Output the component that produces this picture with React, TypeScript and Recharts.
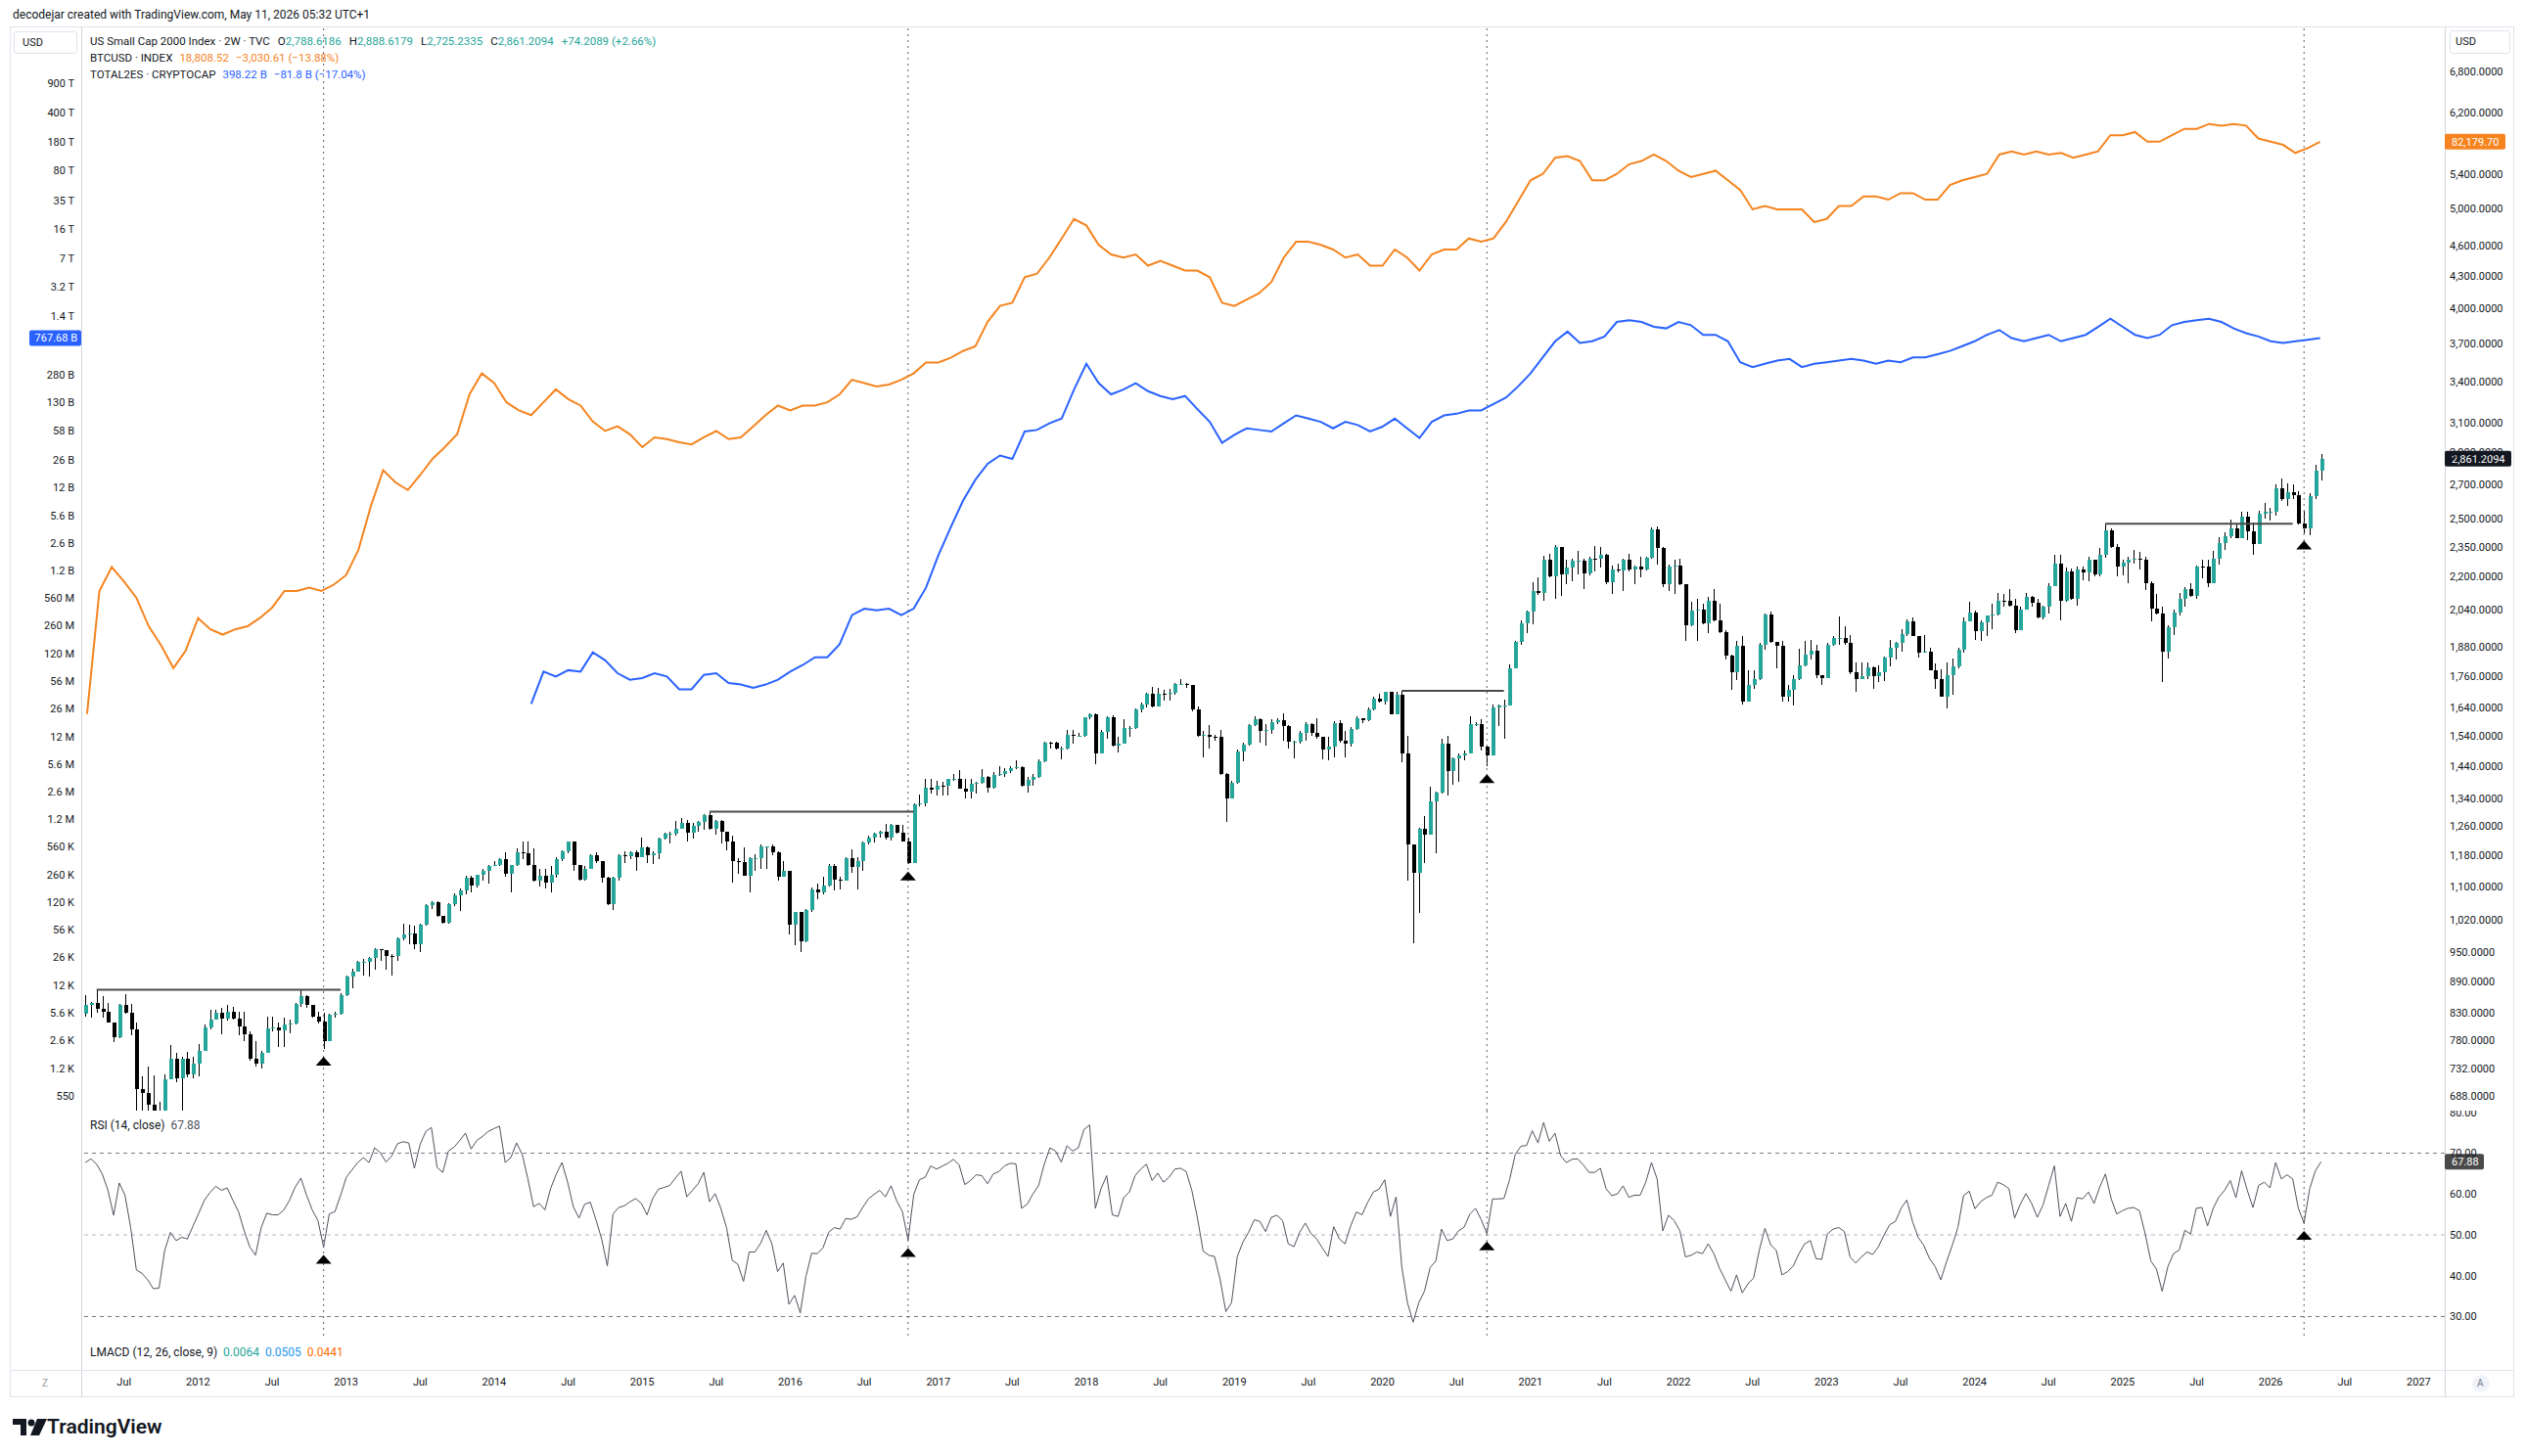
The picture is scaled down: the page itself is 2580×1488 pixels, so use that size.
import React from "react";
import {
  ComposedChart,
  Bar,
  Line,
  XAxis,
  YAxis,
  ReferenceLine,
  ReferenceDot,
} from "recharts";

/* US Small Cap 2000 (TVC), 2-week bars: [high, low, close].
   Open of every bar is the previous close (index bars do not gap). */
const firstOpen = 828;
const bars2011 = [
  [862, 822, 844], [849, 821, 847], [873, 830, 836], [861, 821, 832], [848, 811, 811],
  [812, 777, 785], [845, 783, 844], [864, 827, 830], [845, 789, 800], [811, 650, 699],
  [719, 650, 694], [736, 640, 676], [721, 640, 652], [680, 601, 661], [722, 655, 715],
  [772, 715, 749], [758, 710, 717], [752, 666, 749], [760, 718, 722], [752, 716, 741],
];
const bars2012 = [
  [774, 719, 761], [808, 768, 802], [835, 799, 817], [835, 817, 829], [838, 791, 819],
  [844, 815, 832], [841, 817, 819], [832, 788, 805], [832, 779, 791], [795, 745, 749],
  [779, 735, 740], [762, 733, 759], [823, 762, 801], [823, 796, 803], [811, 768, 798],
  [820, 768, 808], [817, 793, 809], [847, 808, 845], [872, 841, 860], [862, 838, 844],
  [844, 821, 823], [832, 809, 814], [829, 765, 779], [827, 779, 826], [832, 820, 828],
  [866, 826, 863],
];
const bars2013 = [
  [902, 860, 899], [915, 876, 909], [932, 909, 930], [936, 902, 930], [939, 899, 937],
  [958, 914, 956], [956, 932, 955], [955, 914, 942], [946, 902, 941], [981, 932, 979],
  [1012, 976, 988], [1009, 967, 991], [1007, 956, 967], [1012, 949, 1010], [1057, 1008, 1055],
  [1065, 1045, 1062], [1065, 1027, 1029], [1030, 1012, 1014], [1060, 1012, 1057], [1082, 1053, 1078],
  [1094, 1042, 1090], [1126, 1080, 1122], [1126, 1086, 1102], [1130, 1098, 1128], [1143, 1114, 1138],
  [1155, 1106, 1151], [1164, 1151, 1155],
];
const bars2014 = [
  [1172, 1151, 1168], [1187, 1124, 1132], [1155, 1086, 1153], [1198, 1151, 1187], [1215, 1170, 1185],
  [1215, 1151, 1155], [1198, 1112, 1114], [1143, 1099, 1126], [1143, 1096, 1110], [1151, 1086, 1128],
  [1174, 1122, 1170], [1193, 1164, 1191], [1217, 1185, 1215], [1211, 1138, 1153], [1155, 1114, 1116],
  [1151, 1114, 1145], [1182, 1148, 1179], [1187, 1159, 1164], [1165, 1110, 1122], [1124, 1055, 1057],
  [1124, 1043, 1122], [1182, 1114, 1179], [1191, 1159, 1176], [1191, 1170, 1187], [1193, 1138, 1174],
  [1226, 1193, 1200],
];
const bars2015 = [
  [1202, 1159, 1179], [1190, 1157, 1185], [1226, 1168, 1224], [1240, 1222, 1238], [1244, 1211, 1238],
  [1272, 1232, 1252], [1281, 1253, 1268], [1276, 1217, 1239], [1267, 1224, 1260], [1272, 1244, 1270],
  [1292, 1249, 1290], [1300, 1249, 1251], [1276, 1235, 1272], [1276, 1210, 1244], [1239, 1193, 1217],
  [1231, 1109, 1165], [1172, 1132, 1161], [1200, 1126, 1127], [1175, 1085, 1172], [1182, 1140, 1172],
  [1207, 1144, 1203], [1204, 1144, 1204], [1208, 1179, 1187], [1191, 1114, 1123], [1165, 1124, 1140],
  [1140, 989, 1010],
];
const bars2016 = [
  [1040, 964, 1038], [1040, 949, 972], [1045, 970, 1044], [1098, 1038, 1093], [1107, 1070, 1085],
  [1123, 1081, 1102], [1156, 1100, 1152], [1156, 1091, 1117], [1125, 1093, 1114], [1175, 1114, 1172],
  [1196, 1134, 1148], [1175, 1093, 1164], [1216, 1138, 1213], [1231, 1209, 1226], [1239, 1213, 1237],
  [1246, 1226, 1244], [1264, 1222, 1226], [1265, 1218, 1263], [1263, 1237, 1239], [1263, 1215, 1217],
  [1226, 1157, 1160], [1323, 1162, 1320], [1350, 1316, 1325], [1400, 1316, 1370], [1400, 1355, 1366],
  [1394, 1348, 1378],
];
const bars2017 = [
  [1391, 1348, 1376], [1400, 1348, 1398], [1415, 1394, 1400], [1425, 1367, 1369], [1400, 1340, 1360],
  [1400, 1340, 1383], [1389, 1355, 1386], [1431, 1383, 1404], [1409, 1358, 1371], [1420, 1369, 1410],
  [1440, 1408, 1413], [1434, 1404, 1424], [1440, 1416, 1434], [1458, 1429, 1437], [1440, 1373, 1378],
  [1404, 1356, 1396], [1413, 1378, 1406], [1461, 1401, 1455], [1520, 1451, 1517], [1520, 1498, 1515],
  [1520, 1493, 1498], [1504, 1460, 1498], [1560, 1493, 1543], [1560, 1514, 1539], [1551, 1535, 1541],
  [1606, 1537, 1604],
];
const bars2018 = [
  [1621, 1600, 1616], [1619, 1446, 1482], [1561, 1482, 1553], [1609, 1530, 1604], [1612, 1504, 1508],
  [1537, 1485, 1512], [1600, 1513, 1566], [1575, 1537, 1567], [1636, 1565, 1633], [1659, 1624, 1653],
  [1697, 1641, 1693], [1716, 1640, 1645], [1714, 1643, 1693], [1708, 1665, 1692], [1709, 1667, 1697],
  [1733, 1688, 1728], [1748, 1724, 1731], [1733, 1714, 1725], [1722, 1628, 1633], [1643, 1537, 1541],
  [1557, 1469, 1545], [1577, 1496, 1537], [1543, 1523, 1535], [1560, 1410, 1415], [1418, 1270, 1340],
  [1392, 1338, 1386],
];
const bars2019 = [
  [1493, 1383, 1488], [1516, 1455, 1510], [1580, 1506, 1577], [1608, 1574, 1600], [1602, 1516, 1558],
  [1580, 1506, 1560], [1597, 1546, 1589], [1603, 1580, 1596], [1621, 1524, 1575], [1578, 1496, 1519],
  [1524, 1464, 1521], [1557, 1513, 1551], [1589, 1524, 1580], [1586, 1540, 1551], [1603, 1529, 1535],
  [1537, 1461, 1493], [1535, 1457, 1502], [1592, 1469, 1586], [1594, 1518, 1524], [1557, 1469, 1513],
  [1569, 1502, 1563], [1609, 1560, 1603], [1603, 1586, 1595], [1639, 1592, 1634], [1681, 1631, 1675],
  [1693, 1657, 1661],
];
const bars2020 = [
  [1700, 1651, 1699], [1699, 1615, 1617], [1699, 1615, 1689], [1703, 1453, 1480], [1540, 1113, 1209],
  [1209, 969, 1133], [1255, 1036, 1250], [1288, 1158, 1236], [1375, 1241, 1331], [1360, 1184, 1358],
  [1529, 1355, 1513], [1540, 1347, 1422], [1469, 1380, 1464], [1482, 1391, 1475], [1490, 1459, 1482],
  [1609, 1484, 1580], [1589, 1575, 1582], [1597, 1490, 1502], [1507, 1438, 1475], [1651, 1477, 1641],
  [1651, 1575, 1647], [1669, 1529, 1649], [1808, 1649, 1790], [1902, 1790, 1898], [1994, 1888, 1980],
  [2036, 1937, 2031],
];
const bars2021 = [
  [2169, 1977, 2127], [2193, 2110, 2120], [2305, 2084, 2283], [2315, 2195, 2199], [2360, 2090, 2348],
  [2351, 2106, 2209], [2282, 2161, 2244], [2290, 2177, 2277], [2327, 2209, 2277], [2290, 2137, 2214],
  [2299, 2204, 2290], [2355, 2225, 2286], [2350, 2241, 2310], [2315, 2161, 2169], [2254, 2114, 2233],
  [2261, 2217, 2230], [2290, 2130, 2282], [2315, 2225, 2233], [2254, 2161, 2249], [2299, 2193, 2233],
  [2299, 2228, 2295], [2455, 2290, 2445], [2460, 2257, 2345], [2350, 2145, 2161], [2257, 2130, 2249],
  [2282, 2114, 2252],
];
const bars2022 = [
  [2290, 2158, 2161], [2148, 1902, 1973], [2076, 1966, 2036], [2092, 1902, 2044], [2069, 1977, 1980],
  [2102, 1937, 2081], [2137, 1991, 1994], [2069, 1937, 1940], [1951, 1827, 1841], [1848, 1706, 1775],
  [1902, 1743, 1884], [1923, 1651, 1663], [1782, 1669, 1724], [1782, 1712, 1749], [1895, 1743, 1888],
  [2024, 1865, 2021], [2031, 1895, 1898], [1895, 1792, 1884], [1902, 1663, 1681], [1724, 1663, 1706],
  [1762, 1648, 1749], [1871, 1746, 1801], [1902, 1799, 1848], [1906, 1827, 1861], [1888, 1752, 1762],
  [1765, 1727, 1752],
];
const bars2023 = [
  [1895, 1768, 1888], [1923, 1884, 1916], [2010, 1888, 1916], [1966, 1888, 1895], [1930, 1768, 1775],
  [1814, 1699, 1749], [1813, 1748, 1761], [1813, 1748, 1794], [1800, 1710, 1761], [1802, 1735, 1776],
  [1840, 1742, 1833], [1908, 1800, 1874], [1901, 1827, 1894], [1954, 1860, 1934], [1997, 1925, 1987],
  [2008, 1923, 1923], [1923, 1833, 1854], [1930, 1854, 1857], [1874, 1781, 1781], [1810, 1712, 1748],
  [1787, 1679, 1679], [1813, 1637, 1764], [1832, 1687, 1800], [1874, 1790, 1867], [2008, 1854, 1987],
  [2076, 1987, 2030],
];
const bars2024 = [
  [2038, 1906, 1948], [1994, 1904, 1983], [2016, 1925, 2014], [2068, 1954, 2020], [2120, 2013, 2084],
  [2114, 2056, 2081], [2137, 2054, 2061], [2091, 1937, 1951], [2056, 1951, 2041], [2117, 2050, 2099],
  [2107, 2056, 2072], [2091, 2004, 2005], [2061, 1997, 2053], [2168, 2023, 2153], [2308, 2158, 2265],
  [2308, 1994, 2084], [2241, 2076, 2225], [2238, 2087, 2091], [2249, 2061, 2233], [2249, 2179, 2217],
  [2299, 2176, 2282], [2282, 2201, 2208], [2341, 2201, 2308], [2473, 2291, 2440], [2450, 2341, 2346],
  [2366, 2201, 2246], [2282, 2206, 2270],
];
const bars2025 = [
  [2299, 2165, 2282], [2333, 2265, 2290], [2324, 2233, 2285], [2299, 2133, 2165], [2176, 1990, 2046],
  [2114, 2020, 2023], [2053, 1735, 1860], [1973, 1830, 1964], [2043, 1930, 2027], [2118, 2016, 2091],
  [2145, 2056, 2137], [2168, 2102, 2107], [2254, 2091, 2249], [2282, 2192, 2246], [2285, 2148, 2168],
  [2330, 2176, 2290], [2400, 2257, 2370], [2428, 2333, 2405], [2496, 2396, 2450], [2473, 2393, 2396],
  [2542, 2423, 2513], [2542, 2384, 2434], [2482, 2308, 2366], [2546, 2366, 2527], [2593, 2500, 2540],
  [2565, 2491, 2540],
];
const bars2026 = [
  [2699, 2518, 2680], [2738, 2602, 2612], [2709, 2574, 2654], [2699, 2612, 2635], [2660, 2467, 2473],
  [2548, 2424, 2446], [2650, 2410, 2631], [2820, 2616, 2787], [2888.6179, 2725.2335, 2861.2094],
];

// RSI (14, close) per bar
const rsi2011 = [67.7, 68.6, 67.3, 64.9, 60.9, 54.8, 62.7, 59.7, 51.8, 41.4, 40.6, 39.0, 36.8, 37.0, 46.2, 50.6, 48.6, 49.4, 49.0, 52.2];
const rsi2012 = [55.3, 58.5, 60.4, 61.9, 60.9, 61.5, 58.5, 55.7, 51.0, 47.0, 45.0, 51.8, 55.3, 54.9, 54.9, 56.1, 58.5, 61.7, 63.9, 59.7, 56.1, 53.5, 47.0, 55.1, 55.7, 59.7];
const rsi2013 = [64.1, 65.9, 67.7, 68.9, 67.7, 71.3, 70.1, 67.8, 69.3, 72.3, 72.8, 72.5, 66.3, 72.1, 75.3, 76.3, 66.5, 65.3, 70.5, 71.5, 73.1, 74.9, 71.0, 73.1, 74.1, 75.3, 76.0];
const rsi2014 = [76.6, 67.7, 68.9, 72.5, 69.7, 63.7, 56.9, 57.7, 56.1, 61.3, 64.9, 67.7, 62.9, 56.9, 54.1, 57.5, 58.0, 53.7, 49.0, 42.4, 55.1, 56.7, 57.1, 58.1, 58.9, 57.7];
const rsi2015 = [54.9, 58.9, 61.2, 61.6, 62.1, 63.9, 65.6, 59.3, 60.9, 62.5, 65.3, 58.1, 60.1, 56.5, 51.8, 43.8, 42.8, 38.6, 45.8, 45.8, 47.9, 51.1, 47.8, 41.0, 43.1, 33.0];
const rsi2016 = [35.2, 30.9, 39.8, 45.5, 45.4, 46.8, 50.6, 51.8, 51.4, 54.0, 53.8, 54.4, 56.7, 58.8, 59.9, 60.9, 59.3, 62.0, 58.3, 55.7, 48.7, 59.9, 63.5, 64.1, 66.9, 66.1];
const rsi2017 = [66.8, 67.5, 68.5, 67.1, 62.3, 63.3, 64.7, 64.5, 62.5, 64.9, 65.5, 66.9, 67.5, 67.4, 56.5, 57.5, 60.0, 62.1, 67.3, 71.3, 70.5, 67.8, 71.8, 70.5, 71.3, 75.8];
const rsi2018 = [76.9, 56.5, 61.3, 64.5, 54.9, 54.5, 59.1, 60.5, 64.5, 66.1, 67.3, 63.3, 65.1, 62.9, 64.1, 66.1, 66.3, 65.5, 60.9, 54.1, 46.0, 45.0, 44.7, 39.0, 31.2, 33.4];
const rsi2019 = [44.6, 48.2, 50.6, 53.7, 53.3, 50.8, 54.3, 54.8, 53.5, 47.8, 47.1, 50.6, 52.9, 50.3, 49.0, 46.8, 44.7, 52.0, 49.0, 47.8, 52.2, 55.6, 54.9, 58.0, 60.5, 61.2];
const rsi2020 = [63.5, 54.5, 59.3, 42.2, 33.4, 28.6, 33.4, 36.2, 42.0, 43.6, 51.4, 48.6, 49.0, 51.0, 51.9, 55.1, 56.5, 53.7, 50.3, 58.8, 58.8, 58.9, 63.5, 69.7, 71.7, 71.9];
const rsi2021 = [75.5, 72.5, 77.5, 72.9, 74.9, 69.4, 67.7, 68.5, 68.6, 67.1, 65.3, 65.3, 66.3, 61.3, 59.6, 60.0, 62.0, 59.2, 59.7, 59.7, 62.9, 67.7, 63.7, 51.0, 54.8, 53.5];
const rsi2022 = [51.0, 44.6, 45.0, 45.8, 45.4, 47.8, 45.4, 41.8, 39.0, 36.2, 40.2, 35.8, 38.0, 39.4, 46.2, 51.6, 47.6, 46.2, 40.2, 41.0, 42.4, 45.4, 47.8, 48.6, 44.2, 44.0];
const rsi2023 = [50.2, 51.4, 51.8, 50.8, 44.6, 43.1, 44.6, 45.8, 45.2, 47.1, 50.0, 52.5, 53.3, 56.5, 58.5, 53.3, 49.4, 47.4, 44.2, 42.2, 39.0, 43.4, 47.4, 51.8, 59.6, 60.7];
const rsi2024 = [56.4, 58.1, 59.1, 59.7, 62.9, 62.3, 61.3, 54.1, 57.5, 60.1, 57.7, 54.3, 57.3, 62.1, 66.9, 54.5, 57.7, 53.3, 59.1, 58.8, 60.5, 57.7, 61.7, 64.9, 58.9, 55.1, 55.9];
const rsi2025 = [56.5, 56.7, 55.9, 50.3, 43.6, 41.6, 36.2, 42.2, 45.4, 46.3, 51.1, 50.2, 56.5, 56.7, 52.2, 56.5, 59.3, 60.9, 63.3, 59.1, 65.7, 60.9, 56.7, 62.1, 62.9, 61.5];
const rsi2026 = [67.7, 63.7, 64.7, 63.7, 56.5, 52.9, 61.3, 65.7, 67.88];

// BTCUSD INDEX, month starts Apr 2011 .. May 2026
const btc2011 = [1.73, 17.5, 27.4, 20.9, 15.4, 9.0, 6.3, 4.1, 5.7];
const btc2012 = [10.5, 8.5, 7.7, 8.5, 9.0, 10.5, 12.8, 17.5, 17.5, 18.6, 17.5, 19.7];
const btc2013 = [23.6, 38, 86, 170, 135, 117, 155, 210, 262, 334, 708, 1050];
const btc2014 = [875, 609, 523, 479, 609, 777, 647, 573, 424, 355, 388, 334];
const btc2015 = [262, 315, 305, 287, 276, 315, 355, 305, 315, 388, 479, 573];
const btc2016 = [523, 573, 573, 609, 708, 931, 875, 822, 851, 931, 1050, 1290];
const btc2017 = [1290, 1410, 1600, 1750, 2770, 3740, 3970, 6420, 6850, 9280, 13300, 19200];
const btc2018 = [17000, 11800, 9850, 9280, 9850, 7970, 8730, 7970, 7270, 7270, 6420, 3970];
const btc2019 = [3740, 4210, 4750, 5860, 9280, 12500, 12500, 11800, 10800, 9280, 9850, 7970];
const btc2020 = [7970, 10800, 9280, 7270, 9850, 10800, 10800, 13300, 12500, 13300, 18100, 26800];
const btc2021 = [39700, 44800, 60700, 62600, 57100, 39700, 39700, 44800, 53800, 57100, 64500, 57100];
const btc2022 = [47600, 42200, 44800, 47600, 39700, 33100, 23000, 24500, 23000, 23000, 23000, 18100];
const btc2023 = [19200, 24500, 24500, 29300, 29300, 27600, 31200, 31200, 27600, 27600, 36300, 39700];
const btc2024 = [42200, 44800, 64500, 68500, 64500, 68500, 64500, 66500, 60700, 64500, 68500, 92800];
const btc2025 = [92800, 98500, 82200, 82200, 92800, 104700, 104700, 114700, 111200, 114700, 111200, 87300];
const btc2026 = [82200, 77400, 66500, 72800, 82179.7];

// TOTAL2ES (CRYPTOCAP), billions USD, month starts Apr 2014 .. May 2026
const tot2014 = [0.0298, 0.073, 0.0638, 0.076, 0.073, 0.125, 0.0999, 0.0698, 0.0583];
const tot2015 = [0.061, 0.0698, 0.0638, 0.0446, 0.0446, 0.0667, 0.0698, 0.0533, 0.051, 0.0466, 0.051, 0.0583];
const tot2016 = [0.073, 0.0874, 0.109, 0.109, 0.156, 0.35, 0.419, 0.4, 0.419, 0.35, 0.419, 0.75];
const tot2017 = [1.84, 4.0, 8.4, 15, 23.5, 29.5, 26.8, 57.4, 60, 72, 82.2, 184];
const tot2018 = [376, 220, 161, 184, 220, 176, 154, 141, 154, 107, 75.1, 42];
const tot2019 = [52.5, 62.7, 60, 57.4, 72, 89.9, 82.2, 75.1, 62.7, 75.1, 68.7, 57.4];
const tot2020 = [65.7, 82.2, 62.7, 48, 75.1, 89.9, 94, 103, 103, 123, 147, 201];
const tot2021 = [288, 450, 703, 920, 672, 703, 804, 1203, 1260, 1203, 1050, 1006];
const tot2022 = [1203, 1100, 841, 841, 703, 393, 344, 376, 412, 431, 344, 376];
const tot2023 = [393, 412, 431, 412, 376, 412, 393, 450, 450, 492, 538, 615];
const tot2024 = [703, 841, 962, 769, 703, 769, 841, 703, 769, 841, 1050, 1316];
const tot2025 = [1050, 841, 769, 841, 1100, 1203, 1260, 1316, 1203, 1006, 880, 804];
const tot2026 = [703, 672, 703, 735, 767.68];

// drawn annotations: bars with the dotted cursor + arrow, and the resistance lines
const markerBars = [42, 145, 247, 391];
const levels = [
  { from: 2, to: 45, price: 873 },
  { from: 110, to: 146, price: 1300 },
  { from: 232, to: 250, price: 1703 },
  { from: 356, to: 389, price: 2473 },
];

const rightTicks = [688, 732, 780, 830, 890, 950, 1020, 1100, 1180, 1260, 1340, 1440, 1540, 1640, 1760, 1880, 2040, 2200, 2350, 2500, 2700, 2900, 3100, 3400, 3700, 4000, 4300, 4600, 5000, 5400, 6200, 6800];
const leftTicks = [550, 1.2e3, 2.6e3, 5.6e3, 1.2e4, 2.6e4, 5.6e4, 1.2e5, 2.6e5, 5.6e5, 1.2e6, 2.6e6, 5.6e6, 1.2e7, 2.6e7, 5.6e7, 1.2e8, 2.6e8, 5.6e8, 1.2e9, 2.6e9, 5.6e9, 1.2e10, 2.6e10, 5.8e10, 1.3e11, 2.8e11, 1.4e12, 3.2e12, 7e12, 1.6e13, 3.5e13, 8e13, 1.8e14, 4e14, 9e14];
const leftTickLabels = ["550", "1.2 K", "2.6 K", "5.6 K", "12 K", "26 K", "56 K", "120 K", "260 K", "560 K", "1.2 M", "2.6 M", "5.6 M", "12 M", "26 M", "56 M", "120 M", "260 M", "560 M", "1.2 B", "2.6 B", "5.6 B", "12 B", "26 B", "58 B", "130 B", "280 B", "1.4 T", "3.2 T", "7 T", "16 T", "35 T", "80 T", "180 T", "400 T", "900 T"];
const rsiTicks = [30, 40, 50, 60, 70, 80];
const yearTicks = [2012, 2013, 2014, 2015, 2016, 2017, 2018, 2019, 2020, 2021, 2022, 2023, 2024, 2025, 2026, 2027];

// ---- time axis
const BAR0 = 2011.238; // first visible bar, 28 Mar 2011 (decimal years)
const BAR_STEP = 14 / 365.25;
const barTime = (i: number) => BAR0 + i * BAR_STEP;
const X_MIN = 2011.2107;
const X_MAX = 2027.1755;

// each pane's own log scale, picked so the labels land where TradingView put them
const R_DOMAIN = [666.5, 7516];
const L_DOMAIN = [371, 4.41e15];
const BTC_DOMAIN = [9.92e-4, 7.19e5];
const RSI_DOMAIN = [23.65, 80.42];

const INK = "#131722";
const TEAL = "#26a69a";
const ORANGE = "#f5841f";
const BLUE = "#2962ff";
const FONT = "Roboto, 'Noto Sans', sans-serif";
const TICK = { fill: INK, fontSize: 11, fontFamily: FONT };
const LEFT_AXIS_W = 73;

const russellBars = [
  ...bars2011, ...bars2012, ...bars2013, ...bars2014, ...bars2015, ...bars2016,
  ...bars2017, ...bars2018, ...bars2019, ...bars2020, ...bars2021, ...bars2022,
  ...bars2023, ...bars2024, ...bars2025, ...bars2026,
];
const rsiValues = [
  ...rsi2011, ...rsi2012, ...rsi2013, ...rsi2014, ...rsi2015, ...rsi2016,
  ...rsi2017, ...rsi2018, ...rsi2019, ...rsi2020, ...rsi2021, ...rsi2022,
  ...rsi2023, ...rsi2024, ...rsi2025, ...rsi2026,
];
const btcValues = [
  ...btc2011, ...btc2012, ...btc2013, ...btc2014, ...btc2015, ...btc2016,
  ...btc2017, ...btc2018, ...btc2019, ...btc2020, ...btc2021, ...btc2022,
  ...btc2023, ...btc2024, ...btc2025, ...btc2026,
];
const totValues = [
  ...tot2014, ...tot2015, ...tot2016, ...tot2017, ...tot2018, ...tot2019,
  ...tot2020, ...tot2021, ...tot2022, ...tot2023, ...tot2024, ...tot2025, ...tot2026,
];

const candles = russellBars.map(([high, low, close], i) => ({
  t: barTime(i),
  open: i === 0 ? firstOpen : russellBars[i - 1][2],
  high,
  low,
  close,
  range: [low, high],
}));
const rsiPoints = rsiValues.map((v, i) => ({ t: barTime(i), v }));
const btcPoints = btcValues.map((v, k) => ({ t: 2011.25 + k / 12, v }));
const totPoints = totValues.map((v, k) => ({ t: 2014.25 + k / 12, v: v * 1e9 }));
const xTicks = yearTicks.flatMap((y) => [y - 0.5, y]);

const lastBar = candles[candles.length - 1];
const lastBtc = btcValues[btcValues.length - 1];
const lastTot = totValues[totValues.length - 1] * 1e9;
const lastRsi = rsiValues[rsiValues.length - 1];

const fmt4 = (v: number) =>
  v.toLocaleString("en-US", { minimumFractionDigits: 4, maximumFractionDigits: 4 });

/** One candle: the Bar hands us the pixel span of [low, high];
 *  open/close are placed inside it on the same log scale. */
function Candle(props: any) {
  const { x, y, width, height } = props;
  const p = props.payload ?? props;
  if (x == null || y == null || !p) return null;
  const top = Math.min(y, y + height);
  const h = Math.abs(height);
  const lh = Math.log(p.high);
  const ll = Math.log(p.low);
  const py = (v: number) => (lh === ll ? top : top + (h * (lh - Math.log(v))) / (lh - ll));
  const cx = Math.round(x + width / 2);
  const up = p.close >= p.open;
  const b0 = py(Math.max(p.open, p.close));
  const b1 = py(Math.min(p.open, p.close));
  return (
    <g shapeRendering="crispEdges">
      <line x1={cx + 0.5} x2={cx + 0.5} y1={top} y2={top + h} stroke="#000" strokeWidth={1} />
      <rect x={cx - 1.5} y={b0} width={4} height={Math.max(1, b1 - b0)} fill={up ? TEAL : "#000"} />
    </g>
  );
}

/** Left scale label, right-aligned against the scale's inner edge. */
function LeftTick(props: any) {
  const { y, payload } = props;
  if (y == null || !payload) return null;
  const label = leftTickLabels[leftTicks.indexOf(payload.value)] ?? "";
  return (
    <text x={LEFT_AXIS_W - 7} y={y} dy="0.35em" textAnchor="end" {...TICK}>
      {label}
    </text>
  );
}

/** Up arrow drawn just under the point it marks. */
function Arrow(props: any) {
  const { cx, cy } = props;
  if (cx == null || cy == null) return null;
  const top = cy + 8;
  return <path d={`M${cx},${top} L${cx + 8},${top + 9} L${cx - 8},${top + 9} Z`} fill="#000" />;
}

/** Last-value tag sitting on a price scale. */
function AxisTag(props: any) {
  const { viewBox, text, bg, side, w } = props;
  if (!viewBox) return null;
  const y = viewBox.y;
  const x = side === "right" ? viewBox.x + viewBox.width : viewBox.x - w;
  return (
    <g>
      <rect x={x} y={y - 8} width={w} height={16} rx={2} fill={bg} />
      <text
        x={side === "right" ? x + 7 : x + w - 4}
        y={y}
        dy="0.35em"
        textAnchor={side === "right" ? "start" : "end"}
        fill="#fff"
        fontSize={11}
        fontFamily={FONT}
      >
        {text}
      </text>
    </g>
  );
}

function Txt({ x, y, size = 12, color = INK, weight = 400, children }: any) {
  return (
    <div
      style={{
        position: "absolute",
        left: x,
        top: y - 8,
        height: 16,
        lineHeight: "16px",
        fontSize: size,
        color,
        fontWeight: weight,
        whiteSpace: "nowrap",
        fontFamily: FONT,
      }}
    >
      {children}
    </div>
  );
}

/** Legend row: pieces laid out left to right with TradingView's spacing. */
function LegendRow({ y, gap = 8, children }: any) {
  return (
    <div
      style={{
        position: "absolute",
        left: 92,
        top: y - 8,
        height: 16,
        lineHeight: "16px",
        display: "flex",
        gap,
        fontSize: 11.5,
        color: INK,
        whiteSpace: "nowrap",
        fontFamily: FONT,
      }}
    >
      {children}
    </div>
  );
}

function Rule({ x, y, w, h, c = "#e0e3eb" }: any) {
  return <div style={{ position: "absolute", left: x, top: y, width: w, height: h, background: c }} />;
}

export default function App() {
  return (
    <div
      style={{
        position: "absolute",
        left: 0,
        top: 0,
        width: 2580,
        height: 1488,
        background: "#fff",
        overflow: "hidden",
        fontFamily: FONT,
      }}
    >
      <Txt x={13} y={15}>decodejar created with TradingView.com, May 11, 2026 05:32 UTC+1</Txt>

      {/* frame */}
      <div style={{ position: "absolute", left: 10, top: 27, width: 2559, height: 1401, border: "1px solid #e0e3eb", boxSizing: "border-box" }} />
      <Rule x={83} y={27} w={1} h={1401} c="#d1d4dc" />
      <Rule x={2498} y={27} w={1} h={1401} c="#d1d4dc" />
      <Rule x={10} y={1400} w={2559} h={1} />

      {/* main pane */}
      <div style={{ position: "absolute", left: 10, top: 27 }}>
        <ComposedChart width={2559} height={1108} data={candles} margin={{ top: 0, right: 0, bottom: 0, left: 0 }}>
          <XAxis xAxisId="x" dataKey="t" type="number" domain={[X_MIN, X_MAX]} allowDataOverflow hide />
          <YAxis
            yAxisId="l"
            orientation="left"
            width={LEFT_AXIS_W}
            scale="log"
            domain={L_DOMAIN}
            allowDataOverflow
            ticks={leftTicks}
            interval={0}
            axisLine={false}
            tickLine={false}
            tick={(p: any) => <LeftTick {...p} />}
          />
          <YAxis
            yAxisId="r"
            orientation="right"
            width={71}
            scale="log"
            domain={R_DOMAIN}
            allowDataOverflow
            ticks={rightTicks}
            interval={0}
            tickFormatter={fmt4}
            axisLine={false}
            tickLine={false}
            tickSize={0}
            tickMargin={5}
            tick={TICK}
          />
          <YAxis yAxisId="btc" hide scale="log" domain={BTC_DOMAIN} allowDataOverflow />

          {markerBars.map((i) => (
            <ReferenceLine key={`v${i}`} xAxisId="x" yAxisId="r" x={barTime(i)} stroke="#5d606b" strokeDasharray="2 4" />
          ))}
          {levels.map((l) => (
            <ReferenceLine
              key={`h${l.from}`}
              xAxisId="x"
              yAxisId="r"
              segment={[{ x: barTime(l.from), y: l.price }, { x: barTime(l.to), y: l.price }]}
              stroke="#4a4a4a"
              strokeWidth={2}
            />
          ))}

          <Line xAxisId="x" yAxisId="btc" data={btcPoints} dataKey="v" stroke={ORANGE} strokeWidth={2} dot={false} activeDot={false} isAnimationActive={false} />
          <Line xAxisId="x" yAxisId="l" data={totPoints} dataKey="v" stroke={BLUE} strokeWidth={2} dot={false} activeDot={false} isAnimationActive={false} />
          <Bar xAxisId="x" yAxisId="r" dataKey="range" barSize={4} shape={(p: any) => <Candle {...p} />} isAnimationActive={false} />

          {markerBars.map((i) => (
            <ReferenceDot key={`a${i}`} xAxisId="x" yAxisId="r" x={barTime(i)} y={candles[i].low} shape={(p: any) => <Arrow {...p} />} />
          ))}

          <ReferenceLine xAxisId="x" yAxisId="r" y={lastBar.close} stroke="none" ifOverflow="visible"
            label={<AxisTag side="right" w={68} bg={INK} text={fmt4(lastBar.close)} />} />
          <ReferenceLine xAxisId="x" yAxisId="btc" y={lastBtc} stroke="none" ifOverflow="visible"
            label={<AxisTag side="right" w={62} bg={ORANGE} text={lastBtc.toLocaleString("en-US", { minimumFractionDigits: 2 })} />} />
          <ReferenceLine xAxisId="x" yAxisId="l" y={lastTot} stroke="none" ifOverflow="visible"
            label={<AxisTag side="left" w={53} bg={BLUE} text={`${(lastTot / 1e9).toFixed(2)} B`} />} />
        </ComposedChart>
      </div>

      {/* RSI pane + time axis */}
      <div style={{ position: "absolute", left: 10, top: 1135 }}>
        <ComposedChart width={2559} height={293} data={rsiPoints} margin={{ top: 0, right: 0, bottom: 0, left: 0 }}>
          <XAxis
            xAxisId="x"
            dataKey="t"
            type="number"
            domain={[X_MIN, X_MAX]}
            allowDataOverflow
            ticks={xTicks}
            interval={0}
            height={56}
            tickSize={0}
            tickMargin={36}
            axisLine={false}
            tickLine={false}
            tick={TICK}
            tickFormatter={(v: number) => (Number.isInteger(v) ? String(v) : "Jul")}
          />
          <YAxis yAxisId="pad" orientation="left" width={LEFT_AXIS_W} tick={false} axisLine={false} tickLine={false} />
          <YAxis
            yAxisId="rsi"
            orientation="right"
            width={71}
            domain={RSI_DOMAIN}
            allowDataOverflow
            ticks={rsiTicks}
            interval={0}
            tickFormatter={(v: number) => v.toFixed(2)}
            axisLine={false}
            tickLine={false}
            tickSize={0}
            tickMargin={5}
            tick={TICK}
          />
          <ReferenceLine xAxisId="x" yAxisId="rsi" y={70} stroke="#787b86" strokeDasharray="4 4" />
          <ReferenceLine xAxisId="x" yAxisId="rsi" y={50} stroke="#b2b5be" strokeDasharray="4 4" />
          <ReferenceLine xAxisId="x" yAxisId="rsi" y={30} stroke="#787b86" strokeDasharray="4 4" />
          {markerBars.map((i) => (
            <ReferenceLine
              key={`rv${i}`}
              xAxisId="x"
              yAxisId="rsi"
              segment={[{ x: barTime(i), y: RSI_DOMAIN[1] }, { x: barTime(i), y: 25.3 }]}
              stroke="#5d606b"
              strokeDasharray="2 4"
            />
          ))}
          <Line xAxisId="x" yAxisId="rsi" dataKey="v" stroke="#50535e" strokeWidth={1} dot={false} activeDot={false} isAnimationActive={false} />
          {markerBars.map((i) => (
            <ReferenceDot key={`ra${i}`} xAxisId="x" yAxisId="rsi" x={barTime(i)} y={rsiValues[i]} shape={(p: any) => <Arrow {...p} />} />
          ))}
          <ReferenceLine xAxisId="x" yAxisId="rsi" y={lastRsi} stroke="none" ifOverflow="visible"
            label={<AxisTag side="right" w={40} bg="#4a4a4a" text={lastRsi.toFixed(2)} />} />
        </ComposedChart>
      </div>

      {/* price-scale unit boxes */}
      <div style={{ position: "absolute", left: 14, top: 32, width: 65, height: 23, border: "1px solid #e0e3eb", borderRadius: 3, boxSizing: "border-box", background: "#fff" }} />
      <Txt x={23} y={44} size={11}>USD</Txt>
      <div style={{ position: "absolute", left: 2503, top: 31, width: 62, height: 24, border: "1px solid #e0e3eb", borderRadius: 3, boxSizing: "border-box", background: "#fff" }} />
      <Txt x={2509} y={43} size={11}>USD</Txt>

      {/* legends */}
      <LegendRow y={42}>
        <span>US Small Cap 2000 Index · 2W · TVC</span>
        <span>O<span style={{ color: TEAL }}>2,788.6186</span></span>
        <span>H<span style={{ color: TEAL }}>2,888.6179</span></span>
        <span>L<span style={{ color: TEAL }}>2,725.2335</span></span>
        <span>C<span style={{ color: TEAL }}>2,861.2094</span></span>
        <span style={{ color: TEAL }}>+74.2089 (+2.66%)</span>
      </LegendRow>
      <LegendRow y={59} gap={7}>
        <span>BTCUSD · INDEX</span>
        <span style={{ color: ORANGE }}>18,808.52</span>
        <span style={{ color: ORANGE }}>−3,030.61 (−13.88%)</span>
      </LegendRow>
      <LegendRow y={76} gap={7}>
        <span>TOTAL2ES · CRYPTOCAP</span>
        <span style={{ color: BLUE }}>398.22 B</span>
        <span style={{ color: BLUE }}>−81.8 B (−17.04%)</span>
      </LegendRow>

      <Txt x={92} y={1150}>RSI (14, close)&nbsp;&nbsp;<span style={{ color: "#50535e" }}>67.88</span></Txt>
      <Txt x={92} y={1382}>
        LMACD (12, 26, close, 9)&nbsp;&nbsp;<span style={{ color: TEAL }}>0.0064</span>&nbsp;&nbsp;
        <span style={{ color: "#2196f3" }}>0.0505</span>&nbsp;&nbsp;<span style={{ color: "#ff6d00" }}>0.0441</span>
      </Txt>

      {/* axis corner buttons */}
      <Txt x={43} y={1414} size={10} color="#9598a1">Z</Txt>
      <div style={{ position: "absolute", left: 2526, top: 1405, width: 18, height: 18, borderRadius: 9, background: "#f0f3fa" }} />
      <Txt x={2531} y={1414} size={10} color="#787b86">A</Txt>

      {/* TradingView mark */}
      <svg style={{ position: "absolute", left: 13, top: 1447 }} width={36} height={22} viewBox="0 0 36 22">
        <path d="M0 3h14v17H8V9H0z" fill={INK} />
        <circle cx={19} cy={7} r={3.5} fill={INK} />
        <path d="M25 3h10l-8 17h-9z" fill={INK} />
      </svg>
      <Txt x={48} y={1458} size={21} weight={600}>TradingView</Txt>
    </div>
  );
}
